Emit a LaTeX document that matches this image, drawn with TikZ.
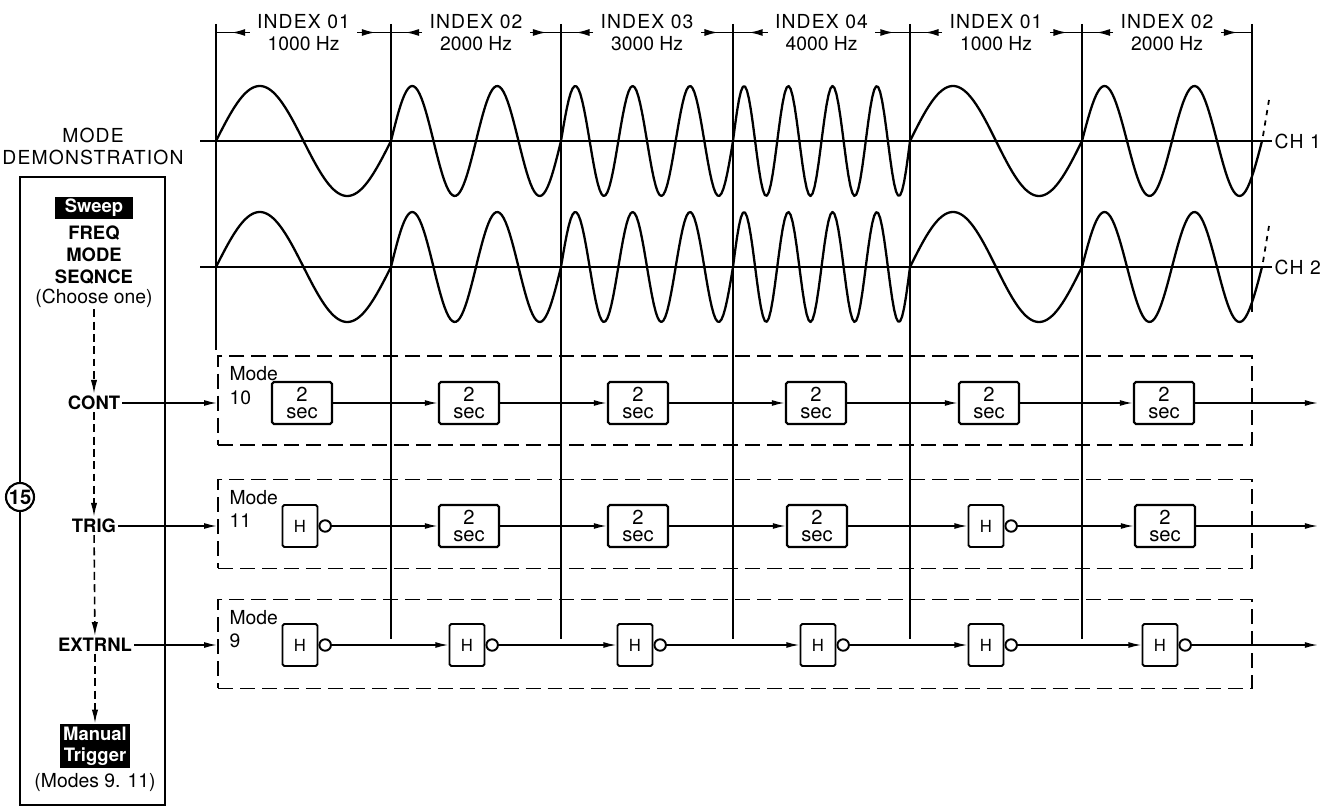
\documentclass[tikz,border=0pt]{standalone}
\usepackage{fontspec}
\setmainfont{TeX Gyre Heros}
\newfontfamily\spacedfont[LetterSpace=6]{TeX Gyre Heros}
\usetikzlibrary{
	arrows.meta,
	positioning,
	decorations.markings
}
\newcommand{\wavepart}[4]{plot[domain=#1:#2, samples=90] (\x,{#4-55*sin(360*#3/(#2-#1)*(\x-#1))})}

\begin{document}
\begin{tikzpicture}[x=0.02cm, y=-0.02cm,
	every node/.style={font=\fontsize{11}{12.5}\selectfont, inner sep=1pt},
	boldlbl/.style={font=\bfseries\fontsize{10.5}{12.5}\selectfont},
	invbox/.style={fill=black, text=white, align=center, inner sep=1pt, font=\bfseries\fontsize{10.5}{12}\selectfont},
	gridline/.style={line width=1.1pt},
	wave/.style={line width=1.3pt, line join=round},
	dimline/.style={line width=1.1pt, postaction={decorate}, decoration={markings, mark=at position 0.55 with {\arrow{Latex[length=8pt,width=4pt]}}}},
	modeframe/.style={draw, line width=1pt, dash pattern=on 8.5pt off 4pt, minimum width=20.68cm, minimum height=1.78cm},
	modelbl/.style={anchor=north west, align=left, inner sep=0pt, font=\fontsize{11}{13.5}\selectfont},
	secbox/.style={draw, rounded corners=1pt, line width=1.2pt, minimum width=1.2cm, minimum height=0.84cm, align=center, inner sep=0pt, font=\fontsize{11.5}{10}\selectfont},
	hbox/.style={draw, rounded corners=1pt, line width=1.1pt, minimum width=0.7cm, minimum height=0.84cm, inner sep=0pt, font=\fontsize{9.5}{10}\selectfont},
	bubble/.style={circle, draw, line width=1.1pt, minimum size=0.23cm, inner sep=0pt, anchor=west},
	sig/.style={line width=0.9pt, -{Latex[length=7.5pt,width=3.4pt]}},
	choice/.style={line width=0.9pt, dash pattern=on 4.5pt off 2.5pt, -{Latex[length=8pt,width=3.6pt]}}
	]
	\useasboundingbox (0,0) rectangle (1339,807);
	\coordinate (T0) at (216,24);
	\coordinate (T1) at (391,24);
	\coordinate (T2) at (561,24);
	\coordinate (T3) at (733,24);
	\coordinate (T4) at (910,24);
	\coordinate (T5) at (1082,24);
	\coordinate (T6) at (1252,24);
	\coordinate (B0) at (216,350);
	\coordinate (B1) at (391,639);
	\coordinate (B2) at (561,639);
	\coordinate (B3) at (733,639);
	\coordinate (B4) at (910,639);
	\coordinate (B5) at (1082,639);
	\coordinate (B6) at (1252,312);
	\draw[gridline] (T0)--(B0);
	\draw[gridline] (T1)--(B1);
	\draw[gridline] (T2)--(B2);
	\draw[gridline] (T3)--(B3);
	\draw[gridline] (T4)--(B4);
	\draw[gridline] (T5)--(B5);
	\draw[gridline] (T6)--(B6);
	\node[align=center, inner xsep=4pt] (I1) at (303.5,32.5) {{\spacedfont INDEX 01}\\1000 Hz};
	\node[align=center, inner xsep=4pt] (I2) at (476,32.5) {{\spacedfont INDEX 02}\\2000 Hz};
	\node[align=center, inner xsep=4pt] (I3) at (647,32.5) {{\spacedfont INDEX 03}\\3000 Hz};
	\node[align=center, inner xsep=4pt] (I4) at (821.5,32.5) {{\spacedfont INDEX 04}\\4000 Hz};
	\node[align=center, inner xsep=4pt] (I5) at (996,32.5) {{\spacedfont INDEX 01}\\1000 Hz};
	\node[align=center, inner xsep=4pt] (I6) at (1167,32.5) {{\spacedfont INDEX 02}\\2000 Hz};
	\draw[dimline] (I1.west)--(I1.west -| T0);
	\draw[dimline] (I1.east)--(I1.east -| T1);
	\draw[dimline] (I2.west)--(I2.west -| T1);
	\draw[dimline] (I2.east)--(I2.east -| T2);
	\draw[dimline] (I3.west)--(I3.west -| T2);
	\draw[dimline] (I3.east)--(I3.east -| T3);
	\draw[dimline] (I4.west)--(I4.west -| T3);
	\draw[dimline] (I4.east)--(I4.east -| T4);
	\draw[dimline] (I5.west)--(I5.west -| T4);
	\draw[dimline] (I5.east)--(I5.east -| T5);
	\draw[dimline] (I6.west)--(I6.west -| T5);
	\draw[dimline] (I6.east)--(I6.east -| T6);
	\draw[gridline] (200,141)--(1272,141) node[right, name=CH1, font=\spacedfont\fontsize{11}{12}\selectfont] {CH 1};
	\draw[gridline] (200,267)--(1272,267) node[right, name=CH2, font=\spacedfont\fontsize{11}{12}\selectfont] {CH 2};
	\draw[wave] \wavepart{216}{391}{1}{141} \wavepart{391}{561}{2}{141} \wavepart{561}{733}{3}{141} \wavepart{733}{910}{4}{141} \wavepart{910}{1082}{1}{141} \wavepart{1082}{1262}{2}{141};
	\draw[wave] \wavepart{216}{391}{1}{267} \wavepart{391}{561}{2}{267} \wavepart{561}{733}{3}{267} \wavepart{733}{910}{4}{267} \wavepart{910}{1082}{1}{267} \wavepart{1082}{1262}{2}{267};
	\draw[line width=1pt, dashed] (1263,136)--(1269,100);
	\draw[line width=1pt, dashed] (1263,262)--(1269,226);
	\node[align=center, font=\spacedfont\fontsize{11}{12.5}\selectfont] (DEMO) at (93,146) {MODE\\DEMONSTRATION};
	\node[draw, line width=1.3pt, minimum width=2.9cm, minimum height=12.56cm] (PANEL) at (92.5,491) {};
	\node[circle, draw, fill=white, line width=1.2pt, minimum size=0.56cm, inner sep=0pt, font=\bfseries\fontsize{11.5}{12}\selectfont] (KNOB) at (20,497) {15};
	\node[invbox, minimum width=1.56cm, minimum height=0.42cm] (SWEEP) at (94,208) {Sweep};
	\node[boldlbl, align=center] (FMS) at (94,255) {FREQ\\MODE\\SEQNCE};
	\node (CHOOSE) at (94,298) {(Choose one)};
	\node[boldlbl] (CONT) at (94,403) {CONT};
	\node[boldlbl] (TRIG) at (94,526) {TRIG};
	\node[boldlbl] (EXT) at (95,645) {EXTRNL};
	\node[invbox, minimum width=1.42cm, minimum height=0.88cm] (MANUAL) at (95,746) {Manual\\Trigger};
	\node (MODES) at (95,783) {(Modes 9. 11)};
	\draw[choice] (CHOOSE)--(CONT);
	\draw[choice] (CONT)--(TRIG);
	\draw[choice] (TRIG)--(EXT);
	\draw[choice] (EXT)--(MANUAL);
	\node[modeframe] (F10) at (735,400.5) {};
	\node[modeframe] (F11) at (735,524) {};
	\node[modeframe] (F9) at (735,644) {};
	\node[modelbl] (M10) at ([xshift=0.24cm, yshift=-0.22cm]F10.north west) {Mode\\10};
	\node[modelbl] (M11) at ([xshift=0.24cm, yshift=-0.22cm]F11.north west) {Mode\\11};
	\node[modelbl] (M9) at ([xshift=0.24cm, yshift=-0.22cm]F9.north west) {Mode\\9};
	\draw[sig] (CONT)--(CONT -| F10.west);
	\draw[sig] (TRIG)--(TRIG -| F11.west);
	\draw[sig] (EXT)--(EXT -| F9.west);
	\node[secbox] (a1) at (302,403) {2\\sec};
	\node[secbox] (a2) at (469,403) {2\\sec};
	\node[secbox] (a3) at (638,403) {2\\sec};
	\node[secbox] (a4) at (816,403) {2\\sec};
	\node[secbox] (a5) at (989,403) {2\\sec};
	\node[secbox] (a6) at (1164,403) {2\\sec};
	\coordinate (a7) at (1318,403);
	\draw[sig] (a1)--(a2);
	\draw[sig] (a2)--(a3);
	\draw[sig] (a3)--(a4);
	\draw[sig] (a4)--(a5);
	\draw[sig] (a5)--(a6);
	\draw[sig] (a6)--(a7);
	\node[hbox] (b1) at (300,526) {H};
	\node[bubble] (b1o) at (b1.east) {};
	\node[secbox] (b2) at (469,526) {2\\sec};
	\node[secbox] (b3) at (638,526) {2\\sec};
	\node[secbox] (b4) at (817,526) {2\\sec};
	\node[hbox] (b5) at (986,526) {H};
	\node[bubble] (b5o) at (b5.east) {};
	\node[secbox] (b6) at (1165,526) {2\\sec};
	\coordinate (b7) at (1318,526);
	\draw[sig] (b1o)--(b2);
	\draw[sig] (b2)--(b3);
	\draw[sig] (b3)--(b4);
	\draw[sig] (b4)--(b5);
	\draw[sig] (b5o)--(b6);
	\draw[sig] (b6)--(b7);
	\node[hbox] (c1) at (300,645) {H};
	\node[bubble] (c1o) at (c1.east) {};
	\node[hbox] (c2) at (467,645) {H};
	\node[bubble] (c2o) at (c2.east) {};
	\node[hbox] (c3) at (635,645) {H};
	\node[bubble] (c3o) at (c3.east) {};
	\node[hbox] (c4) at (818,645) {H};
	\node[bubble] (c4o) at (c4.east) {};
	\node[hbox] (c5) at (986,645) {H};
	\node[bubble] (c5o) at (c5.east) {};
	\node[hbox] (c6) at (1160,645) {H};
	\node[bubble] (c6o) at (c6.east) {};
	\coordinate (c7) at (1318,645);
	\draw[sig] (c1o)--(c2);
	\draw[sig] (c2o)--(c3);
	\draw[sig] (c3o)--(c4);
	\draw[sig] (c4o)--(c5);
	\draw[sig] (c5o)--(c6);
	\draw[sig] (c6o)--(c7);
\end{tikzpicture}
\end{document}
